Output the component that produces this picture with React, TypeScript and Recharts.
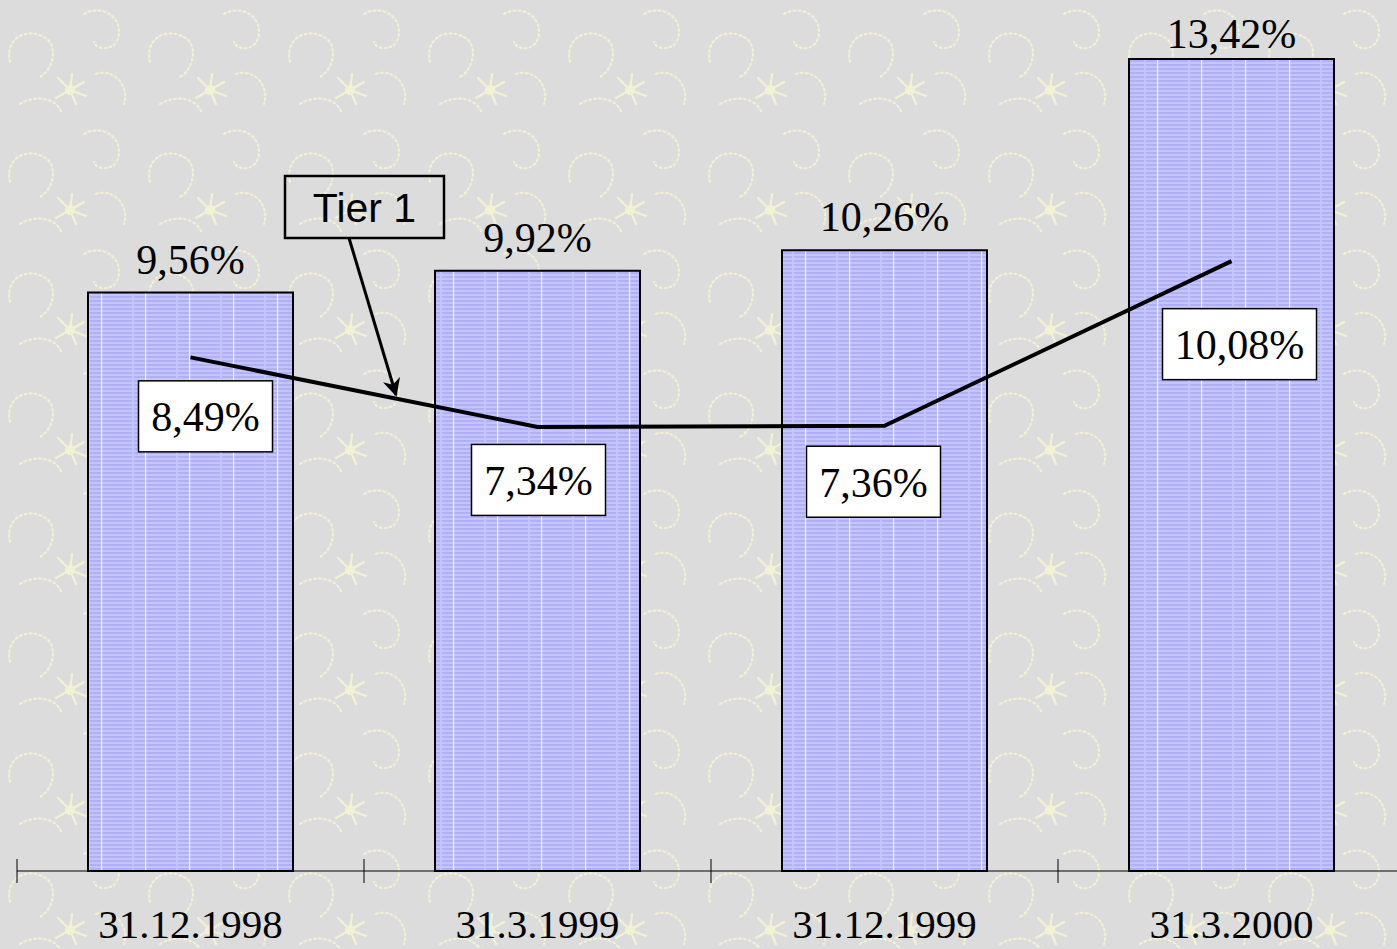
import React from "react";
import { ComposedChart, Bar, Line, XAxis, YAxis, LabelList } from "recharts";

const periods = ["31.12.1998", "31.3.1999", "31.12.1999", "31.3.2000"];
const capitalRatio = [9.56, 9.92, 10.26, 13.42];
const tier1Ratio = [8.49, 7.34, 7.36, 10.08];

const chartData = periods.map((period, i) => ({
	period,
	total: capitalRatio[i],
	tier1: tier1Ratio[i],
}));

// nudges for the white boxes under the Tier 1 points (layout only)
const boxNudge = [
	{ dx: 15, dy: 59 },
	{ dx: 1, dy: 53 },
	{ dx: -11, dy: 56 },
	{ dx: 8, dy: 83 },
];

const SERIF = "'Liberation Serif', 'Times New Roman', serif";
const SANS = "'Liberation Sans', Arial, sans-serif";

const fmt = (v: number) => v.toFixed(2).replace(".", ",") + "%";

const AxisTick = (props: any) => {
	const { x, y, payload, index } = props;
	const half = payload.offset ?? 0;
	return (
		<g>
			<line x1={x - half} x2={x - half} y1={y - 12} y2={y + 12} stroke="#000" strokeWidth={1} />
			{index === periods.length - 1 && (
				<line x1={x + half} x2={x + half} y1={y - 12} y2={y + 12} stroke="#000" strokeWidth={1} />
			)}
			<text x={x} y={y + 67} textAnchor="middle" fontFamily={SERIF} fontSize={41} fill="#000">
				{payload.value}
			</text>
		</g>
	);
};

const BarValue = (props: any) => {
	const { x, y, width, value } = props;
	const baseline = Math.max(y - 19, 48);
	return (
		<text x={x + width / 2} y={baseline} textAnchor="middle" fontFamily={SERIF} fontSize={42} fill="#000">
			{fmt(value)}
		</text>
	);
};

const PointBox = (props: any) => {
	const { x, y, value, index } = props;
	const label = fmt(value);
	const n = boxNudge[index] ?? { dx: 0, dy: 57 };
	const w = label.length * 20 + 34;
	const h = 71;
	const cx = x + n.dx;
	const cy = y + n.dy;
	return (
		<g>
			<rect x={cx - w / 2} y={cy - h / 2} width={w} height={h} fill="#fff" stroke="#000" strokeWidth={1.5} />
			<text x={cx} y={cy + 15} textAnchor="middle" fontFamily={SERIF} fontSize={42} fill="#000">
				{label}
			</text>
		</g>
	);
};

export default function App() {
	return (
		<div
			style={{
				position: "absolute",
				left: 0,
				top: 0,
				width: 1397,
				height: 949,
				overflow: "hidden",
				background: "#dcdcdc",
			}}
		>
			<svg width={1397} height={949} style={{ position: "absolute", left: 0, top: 0 }}>
				<defs>
					<pattern id="barHatch" patternUnits="userSpaceOnUse" width={44} height={4}>
						<rect width={44} height={4} fill="#c4c4ff" />
						<rect width={44} height={2} fill="#b0b0f6" />
						<rect x={0} y={0} width={2} height={2} fill="#c4c4ff" />
						<rect x={13} y={0} width={1.2} height={4} fill="#f4f4ff" />
					</pattern>
					{/* rough stand-in for the slide's cream squiggle texture */}
					<pattern id="bgTex" patternUnits="userSpaceOnUse" width={140} height={120}>
						<g stroke="#f8f8d0" strokeWidth={2} fill="none" strokeDasharray="2 3" strokeLinecap="round">
							<path d="M10,62 C4,35 32,26 48,40 C58,50 52,72 38,78" />
							<path d="M84,14 C100,4 124,16 118,38 C114,52 96,50 94,42" />
							<path d="M20,104 C36,94 58,98 62,114" />
							<path d="M96,74 C112,68 130,84 124,104" />
						</g>
						<g stroke="#f8f8d0" strokeWidth={2.2} strokeLinecap="round">
							<path d="M70,90 L58,78 M70,90 L84,82 M70,90 L76,104 M70,90 L56,98 M70,90 L72,74 M70,90 L86,96" />
						</g>
						<circle cx={70} cy={90} r={5} fill="#f8f8d0" />
					</pattern>
				</defs>
				<rect width={1397} height={949} fill="url(#bgTex)" opacity={0.8} />
			</svg>
			<div style={{ position: "absolute", left: 0, top: 0 }}>
				<ComposedChart
					width={1405}
					height={949}
					data={chartData}
					margin={{ top: 24, right: 0, bottom: 0, left: 17 }}
				>
					<XAxis
						dataKey="period"
						height={78}
						axisLine={{ stroke: "#000", strokeWidth: 1 }}
						tickLine={false}
						tickSize={0}
						tickMargin={0}
						interval={0}
						tick={<AxisTick />}
					/>
					<YAxis hide domain={[0, 14]} />
					<Bar
						dataKey="total"
						barSize={205}
						fill="url(#barHatch)"
						stroke="#000"
						strokeWidth={2}
						isAnimationActive={false}
					>
						<LabelList dataKey="total" content={<BarValue />} />
					</Bar>
					<Line
						type="linear"
						dataKey="tier1"
						stroke="#000"
						strokeWidth={4}
						dot={false}
						activeDot={false}
						isAnimationActive={false}
					>
						<LabelList dataKey="tier1" content={<PointBox />} />
					</Line>
				</ComposedChart>
			</div>
			<svg
				width={1397}
				height={949}
				style={{ position: "absolute", left: 0, top: 0, pointerEvents: "none" }}
			>
				<defs>
					<marker
						id="arrowHead"
						viewBox="0 0 10 10"
						refX={9}
						refY={5}
						markerWidth={6}
						markerHeight={6}
						markerUnits="strokeWidth"
						orient="auto"
					>
						<path d="M0,0 L10,5 L0,10 L3,5 z" fill="#000" />
					</marker>
				</defs>
				<line x1={349} y1={238} x2={396} y2={395} stroke="#000" strokeWidth={3} markerEnd="url(#arrowHead)" />
				<rect x={285} y={176} width={159} height={62} fill="none" stroke="#000" strokeWidth={2.5} />
				<text x={364.5} y={222} textAnchor="middle" fontFamily={SANS} fontSize={41} fill="#000">
					Tier 1
				</text>
			</svg>
		</div>
	);
}
